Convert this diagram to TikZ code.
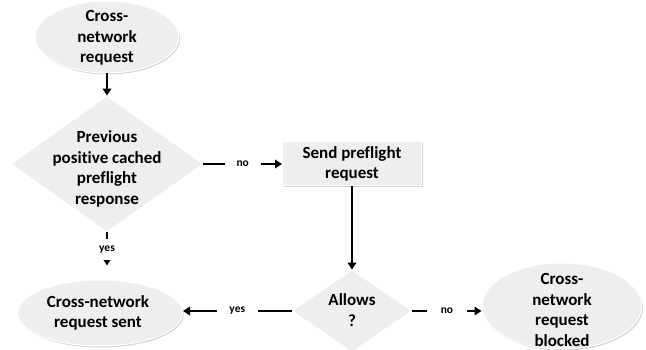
\documentclass[tikz,border=0pt]{standalone}
\usepackage{fontspec}
\setmainfont{Carlito}[Ligatures=NoCommon]
\usetikzlibrary{shapes.geometric,arrows.meta,shadows}
\definecolor{boxfill}{HTML}{EEEEEE}
\begin{document}
\begin{tikzpicture}[x=1pt,y=-1pt,
  shape fill/.style={fill=boxfill, draw=white, line width=1pt,
    drop shadow={opacity=0.35, shadow xshift=1.2pt, shadow yshift=-1.5pt}},
  ellipsebox/.style={shape fill, ellipse, inner sep=0pt},
  diamondbox/.style={fill=boxfill, draw=white, line width=0.8pt, diamond, inner sep=0pt},
  rectbox/.style={shape fill, rectangle, inner sep=0pt},
  txt/.style={font=\bfseries\fontsize{17}{20.5}\selectfont, align=center, text=black},
  lab/.style={font=\bfseries\fontsize{11.5}{13}\selectfont, fill=white, inner sep=0pt, text=black},
  conn/.style={line width=2.6pt, -{Triangle[width=8.5pt,length=7pt]}},
]
\useasboundingbox (0,0) rectangle (646,350);

% shapes
\node[ellipsebox, minimum width=144pt, minimum height=72pt] (e1) at (107,37) {};
\node[txt] (e1t) at (107,38) {Cross-\\network\\request};

\node[diamondbox, minimum width=192pt, minimum height=136pt] (d1) at (107,164) {};
\node[txt] (d1t) at (107,169) {Previous\\positive cached\\preflight\\response};

\node[rectbox, minimum width=139pt, minimum height=44pt] (r1) at (352,164) {};
\node[txt] (r1t) at (352,164) {Send preflight\\request};

\node[diamondbox, minimum width=120pt, minimum height=82pt] (d2) at (352,311) {};
\node[txt] (d2t) at (352,310) {Allows\\?};

\node[ellipsebox, minimum width=165pt, minimum height=66pt] (e2) at (100,313) {};
\node[txt] (e2t) at (98,313) {Cross-network\\request sent};

\node[ellipsebox, minimum width=160pt, minimum height=86pt] (e3) at (562,306) {};
\node[txt] (e3t) at (562,310) {Cross-\\network\\request\\blocked};

% connectors
\draw[conn] (e1.south) -- (d1.north);
\draw[conn] (d1.east) -- (r1.west)
  node[lab, pos=0.5, minimum width=36pt, minimum height=10pt] (lno1) {no};
\coordinate (yesend) at (d1.south |- e2.north);
\draw[conn, shorten >=14pt] (d1.south) -- (yesend)
  node[lab, pos=0.36, minimum height=21pt] (lyes1) {yes};
\draw[conn] (r1.south) -- (d2.north);
\coordinate (yesend2) at (d2.west -| e2.east);
\draw[conn] (d2.west) -- (yesend2)
  node[lab, pos=0.5, minimum width=41pt, minimum height=10pt] (lyes2) {yes};
\coordinate (noend2) at (d2.east -| e3.west);
\draw[conn] (d2.east) -- (noend2)
  node[lab, pos=0.5, minimum width=40pt, minimum height=10pt] (lno2) {no};
\end{tikzpicture}
\end{document}
